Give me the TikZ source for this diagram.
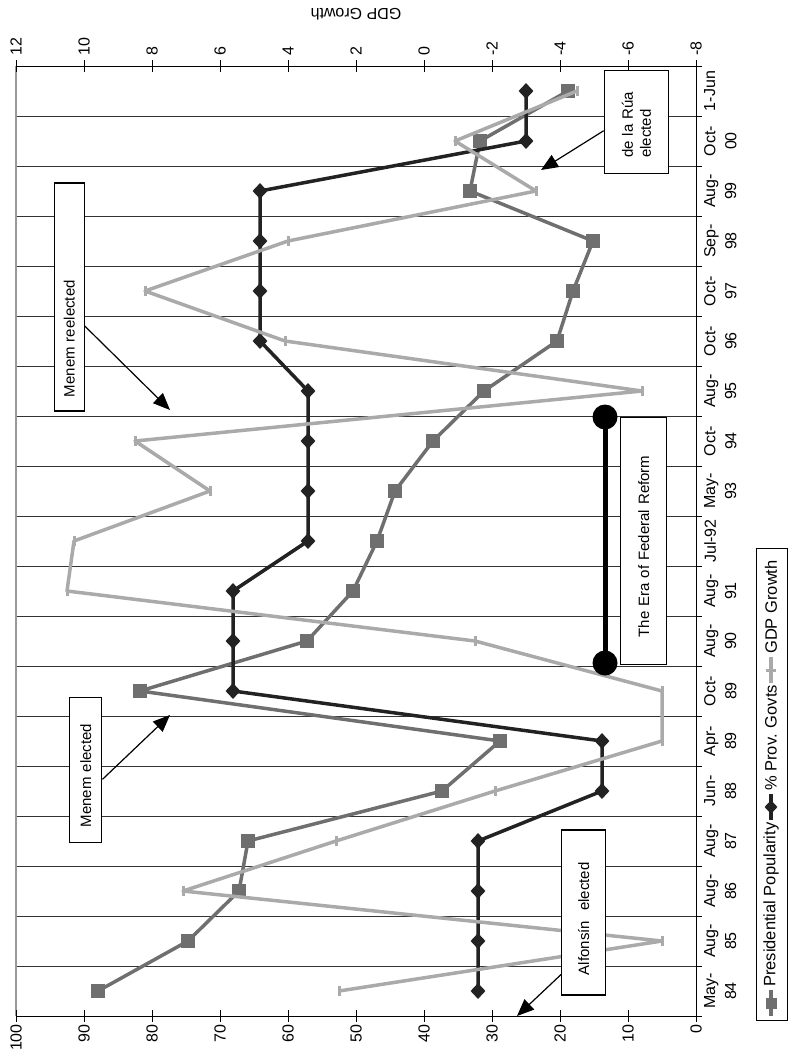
\documentclass[tikz,border=0pt]{standalone}
\usepackage{fontspec}
\setmainfont{Liberation Sans}
\usetikzlibrary{shapes.geometric,arrows.meta,calc}
\definecolor{popc}{HTML}{6F6F6F}
\definecolor{provc}{HTML}{222222}
\definecolor{gdpc}{HTML}{AAAAAA}
\begin{document}
\begin{tikzpicture}[x=1pt,y=-1pt,
  gridl/.style={draw=black!80,line width=0.8pt},
  axisl/.style={draw=black,line width=1pt},
  popline/.style={draw=popc,line width=3.5pt,line join=round},
  popmark/.style={rectangle,fill=popc,minimum size=14pt,inner sep=0pt},
  provline/.style={draw=provc,line width=3.5pt,line join=round},
  provmark/.style={diamond,fill=provc,minimum width=15pt,minimum height=16pt,inner sep=0pt},
  gdpline/.style={draw=gdpc,line width=3.5pt,line join=round},
  gdpmark/.style={draw=gdpc,line width=3pt},
  annot/.style={draw=black,line width=1.3pt,fill=white,rotate=90,inner ysep=0pt,
    align=left,font=\fontsize{15}{18}\selectfont},
  arrowl/.style={draw=black,line width=1.2pt,-{Triangle[length=17pt,width=14pt]}},
  ticklab/.style={rotate=90,inner sep=1pt,font=\fontsize{16}{19}\selectfont},
  catlab/.style={rotate=90,inner sep=0pt,align=center,anchor=north,font=\fontsize{16}{21}\selectfont},
  legtext/.style={rotate=90,inner sep=0pt,anchor=west,font=\fontsize{16.5}{19}\selectfont},
  dot/.style={circle,fill=black,minimum size=25pt,inner sep=0pt}
]
\useasboundingbox (0,0) rectangle (800,1060);
% gridlines
\foreach \k in {1,...,18} \draw[gridl] (16,{66+50*\k}) -- (696,{66+50*\k});
\draw[draw=black!40,line width=1.5pt] (16,66) -- (16,1016);
\draw[axisl] (16,66) -- (696,66);
\draw[axisl] (16,1016) -- (696,1016);
\draw[axisl] (696,66) -- (696,1016);
\foreach \i in {0,...,10} {
  \draw[axisl] ({16+68*\i},60) -- ({16+68*\i},72);
  \draw[axisl] ({16+68*\i},1010) -- ({16+68*\i},1022);
}
\foreach \k in {0,...,19} \draw[axisl] (696,{66+50*\k}) -- (702,{66+50*\k});
% value labels
\foreach \v [count=\i from 0] in {100,90,...,0}
  \node[ticklab,anchor=east] (bl\i) at ({16+68*\i},1023) {\v};
\foreach \v [count=\i from 0] in {12,10,...,-8}
  \node[ticklab,anchor=west] (tl\i) at ({16+68*\i},57) {\v};
\node[rotate=180,font=\fontsize{16}{19}\selectfont] (gdptitle) at (356,14) {GDP Growth};
% category labels
\foreach \c [count=\i from 0] in {May-\\84,Aug-\\85,Aug-\\86,Aug-\\87,Jun-\\88,Apr-\\89,Oct-\\89,Aug-\\90,Aug-\\91,Jul-92,May-\\93,Oct-\\94,Aug-\\95,Oct-\\96,Oct-\\97,Sep-\\98,Aug-\\99,Oct-\\00,1-Jun}
  \node[catlab] (cat\i) at (704,{991-50*\i}) {\c};
% Presidential popularity
\draw[popline] (98,991) -- (188,941) -- (239,891) -- (248,841) -- (442,791) -- (500,741) -- (140,691) -- (307,641) -- (353,591) -- (377,541) -- (395,491) -- (433,441) -- (484,391) -- (557,341) -- (573,291) -- (593,241) -- (470,191) -- (480,141) -- (568,91);
\foreach \x/\y in {98/991,188/941,239/891,248/841,442/791,500/741,140/691,307/641,353/591,377/541,395/491,433/441,484/391,557/341,573/291,593/241,470/191,480/141,568/91}
  \node[popmark] at (\x,\y) {};
% Prov. Govts
\draw[provline] (478,991) -- (478,941) -- (478,891) -- (478,841) -- (602,791) -- (602,741) -- (233,691) -- (233,641) -- (233,591) -- (308,541) -- (308,491) -- (308,441) -- (308,391) -- (260,341) -- (260,291) -- (260,241) -- (260,191) -- (526,141) -- (526,91);
\foreach \x/\y in {478/991,478/941,478/891,478/841,602/791,602/741,233/691,233/641,233/591,308/541,308/491,308/441,308/391,260/341,260/291,260/241,260/191,526/141,526/91}
  \node[provmark] at (\x,\y) {};
% GDP growth
\draw[gdpline] (339,991) -- (662,941) -- (183,891) -- (336,841) -- (495,791) -- (662,741) -- (662,691) -- (475,641) -- (67,591) -- (74,541) -- (210,491) -- (135,441) -- (642,391) -- (285,341) -- (145,291) -- (288,241) -- (536,191) -- (455,141) -- (577,91);
\foreach \x/\y in {339/991,662/941,183/891,336/841,495/791,662/741,662/691,475/641,67/591,74/541,210/491,135/441,642/391,285/341,145/291,288/241,536/191,455/141,577/91}
  \draw[gdpmark] (\x,{\y-5}) -- (\x,{\y+5});
% Federal reform bar
\node[dot] (frA) at (605,417) {};
\node[dot] (frB) at (605,663) {};
\draw[line width=5pt] (frA.center) -- (frB.center);
% annotation boxes
\node[annot,minimum width=228pt,minimum height=30pt,text width=200pt,inner xsep=14pt] (mre) at (69.2,297) {\mbox{Menem reelected}};
\node[annot,minimum width=145pt,minimum height=32pt,text width=115pt,inner xsep=15pt] (mel) at (85.8,769.7) {\mbox{Menem elected}};
\node[annot,minimum width=165pt,minimum height=44pt,text width=125pt,inner xsep=20pt] (alf) at (583.7,912.5) {\mbox{Alfonsín\ \ elected}};
\node[annot,minimum width=247pt,minimum height=46pt,text width=193pt,inner xsep=27pt] (fed) at (643.7,540.8) {\mbox{The Era of Federal Reform}};
\node[annot,minimum width=103pt,minimum height=64pt,text width=71pt,inner xsep=16pt] (rua) at (636.3,122.3) {de la Rúa\\elected};
% arrows
\coordinate (mreT) at (170,410);
\coordinate (melT) at (170,715);
\coordinate (alfT) at (517,1016);
\coordinate (ruaT) at (541,170);
\draw[arrowl] ($(mre.south west)!0.373!(mre.south east)$) -- (mreT);
\draw[arrowl] ($(mel.south west)!0.434!(mel.south east)$) -- (melT);
\draw[arrowl] ($(alf.north west)!0.127!(alf.north east)$) -- (alfT);
\draw[arrowl] ($(rua.north west)!0.419!(rua.north east)$) -- (ruaT);
% legend
\node[draw=black,line width=1pt,minimum width=472pt,minimum height=31pt,rotate=90,inner sep=0pt] (legbox) at (771.5,784) {};
\draw[popline] (771,1016) -- (771,990);
\node[popmark,minimum size=11pt] (lg1) at (771,1003) {};
\node[legtext] (lt1) at (771,987) {Presidential Popularity};
\draw[provline] (771,820) -- (771,794);
\node[provmark,minimum width=13pt,minimum height=14pt] (lg2) at (771,807) {};
\node[legtext] (lt2) at (771,791) {\% Prov. Govts};
\draw[gdpline] (771,683) -- (771,657);
\draw[gdpmark] (766,670) -- (776,670);
\node[legtext] (lt3) at (771,654) {GDP Growth};
\end{tikzpicture}
\end{document}
